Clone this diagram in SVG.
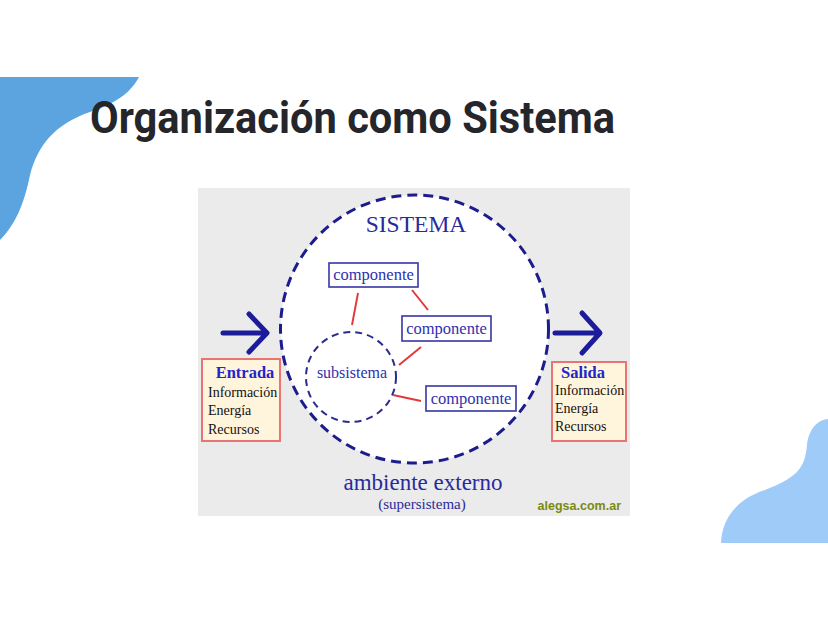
<svg xmlns="http://www.w3.org/2000/svg" width="828" height="621" viewBox="0 0 828 621">
<style>
.serif{font-family:"Liberation Serif","DejaVu Serif",serif}
.comp rect{fill:#fff;stroke:#3636a8;stroke-width:1.6}
.comp text{font-family:"Liberation Serif",serif;font-size:16.5px;fill:#3030b0;text-anchor:middle}
.red{stroke:#e23a3a;stroke-width:2;fill:none}
.box rect{fill:#fff5dc;stroke:#e87474;stroke-width:2}
.box .h{font-family:"Liberation Serif",serif;font-size:16.5px;font-weight:bold;fill:#2424c8}
.box .t{font-family:"Liberation Serif",serif;font-size:14px;fill:#111}
.arrow{stroke:#1c1c9a;stroke-width:5;fill:none;stroke-linecap:round;stroke-linejoin:round}
</style>
<rect width="828" height="621" fill="#fff"/>
<path d="M0,77 L139,77 C132,90 120,102 90,112 C55,124 38,145 30,175 C24,205 15,225 0,240 Z" fill="#5ba4e0"/>
<path d="M721,543 C722,520 735,500 765,490 C795,478 805,470 807,445 C809,428 818,420 828,419 L828,543 Z" fill="#9ecbf7"/>
<text x="90" y="133" font-family="Roboto,sans-serif" font-weight="bold" font-size="44" fill="#24262c" textLength="525" lengthAdjust="spacingAndGlyphs">Organización como Sistema</text>
<rect x="198" y="188" width="432" height="328" fill="#ebebeb"/>
<g id="sistema">
<circle cx="414.5" cy="329" r="134" fill="#fff" stroke="#1c1c8e" stroke-width="3" stroke-dasharray="10 6"/>
<text x="416" y="232" class="serif" font-size="23.5" fill="#2a2a9c" text-anchor="middle">SISTEMA</text>
</g>
<g id="subsistema">
<circle cx="351" cy="377" r="45" fill="none" stroke="#2a2a90" stroke-width="2" stroke-dasharray="7 5"/>
<text x="352" y="378" class="serif" font-size="16" fill="#3030b0" text-anchor="middle">subsistema</text>
</g>
<g id="connectors">
<line class="red" x1="358" y1="293" x2="352" y2="325"/>
<line class="red" x1="412" y1="290" x2="428" y2="310"/>
<line class="red" x1="421" y1="347" x2="399" y2="365"/>
<line class="red" x1="393" y1="395" x2="421" y2="401"/>
<path class="arrow" d="M223,333 H266 M249,314 L267,333 L249,352"/>
<path class="arrow" d="M555,333 H597 M582,313 L600,333 L582,353"/>
</g>
<g id="comp1" class="comp"><rect x="329" y="263" width="89" height="24"/><text x="373.5" y="280">componente</text></g>
<g id="comp2" class="comp"><rect x="402" y="316" width="89" height="25"/><text x="446.5" y="334">componente</text></g>
<g id="comp3" class="comp"><rect x="426" y="386" width="90" height="25"/><text x="471" y="404">componente</text></g>
<g id="entrada" class="box">
<rect x="202" y="359" width="78" height="82"/>
<text class="h" x="245" y="378" text-anchor="middle">Entrada</text>
<text class="t" x="208" y="397">Información</text>
<text class="t" x="208" y="415">Energía</text>
<text class="t" x="208" y="434">Recursos</text>
</g>
<g id="salida" class="box">
<rect x="552" y="362" width="74" height="79"/>
<text class="h" x="561" y="378">Salida</text>
<text class="t" x="555" y="395">Información</text>
<text class="t" x="555" y="413">Energía</text>
<text class="t" x="555" y="431">Recursos</text>
</g>
<g id="ambiente">
<text x="423" y="490" class="serif" font-size="23" fill="#2a2a9c" text-anchor="middle">ambiente externo</text>
<text x="422" y="509" class="serif" font-size="15" fill="#2a2a9c" text-anchor="middle">(supersistema)</text>
</g>
<text x="621" y="510" font-family="Liberation Sans,sans-serif" font-weight="bold" font-size="12.5" fill="#7a8a10" text-anchor="end">alegsa.com.ar</text>
</svg>
